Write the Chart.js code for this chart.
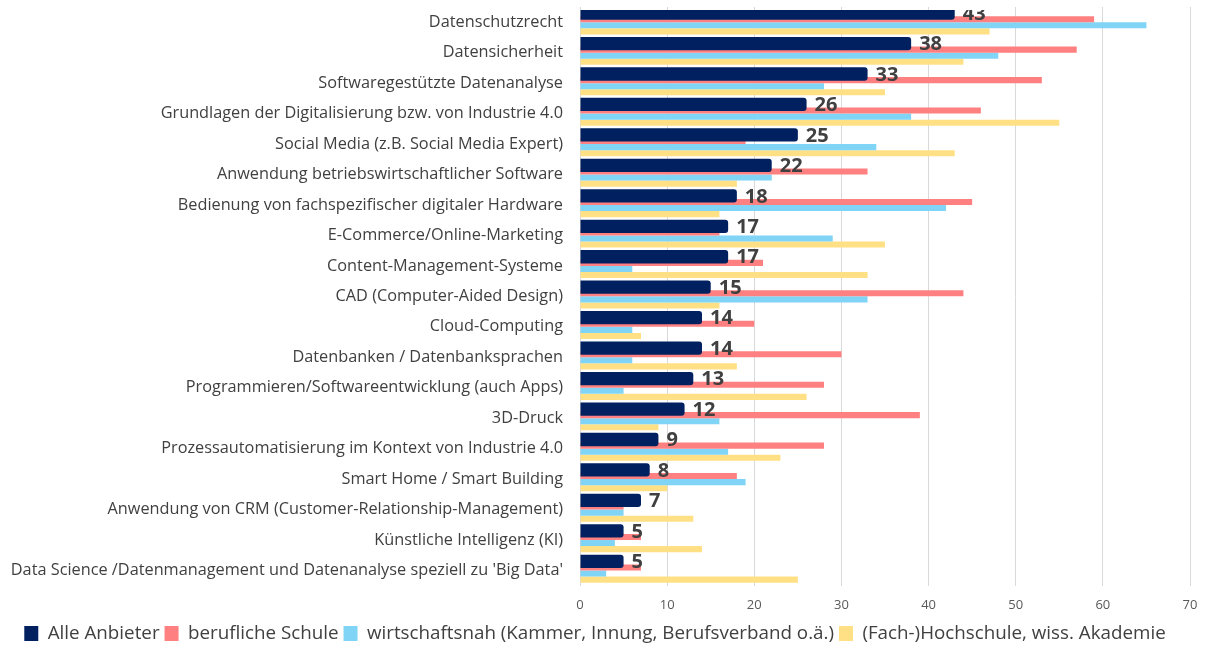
<!DOCTYPE html>
<html>
<head>
<meta charset="utf-8">
<script src="https://cdn.jsdelivr.net/npm/chart.js@4/dist/chart.umd.min.js"></script>
<style>
  html, body { margin: 0; padding: 0; background: #fff; }
  #wrap { width: 1205px; height: 645px; position: relative; }
</style>
</head>
<body>
<div id="wrap"><canvas id="chart"></canvas></div>
<script>
(function () {
    'use strict';

    var categories = [
        'Datenschutzrecht',
        'Datensicherheit',
        'Softwaregestützte Datenanalyse',
        'Grundlagen der Digitalisierung bzw. von Industrie 4.0',
        'Social Media (z.B. Social Media Expert)',
        'Anwendung betriebswirtschaftlicher Software',
        'Bedienung von fachspezifischer digitaler Hardware',
        'E-Commerce/Online-Marketing',
        'Content-Management-Systeme',
        'CAD (Computer-Aided Design)',
        'Cloud-Computing',
        'Datenbanken / Datenbanksprachen',
        'Programmieren/Softwareentwicklung (auch Apps)',
        '3D-Druck',
        'Prozessautomatisierung im Kontext von Industrie 4.0',
        'Smart Home / Smart Building',
        'Anwendung von CRM (Customer-Relationship-Management)',
        'Künstliche Intelligenz (KI)',
        "Data Science /Datenmanagement und Datenanalyse speziell zu 'Big Data'"
    ];
    var alleAnbieter = [43, 38, 33, 26, 25, 22, 18, 17, 17, 15, 14, 14, 13, 12, 9, 8, 7, 5, 5];
    var beruflicheSchule = [59, 57, 53, 46, 19, 33, 45, 16, 21, 44, 20, 30, 28, 39, 28, 18, 5, 7, 7];
    var wirtschaftsnah = [65, 48, 28, 38, 34, 22, 42, 29, 6, 33, 6, 6, 5, 16, 17, 19, 5, 4, 3];
    var hochschule = [47, 44, 35, 55, 43, 18, 16, 35, 33, 16, 7, 18, 26, 9, 23, 10, 13, 14, 25];
    var seriesNames = [
        'Alle Anbieter',
        'berufliche Schule',
        'wirtschaftsnah (Kammer, Innung, Berufsverband o.ä.)',
        '(Fach-)Hochschule, wiss. Akademie'
    ];
    var xTicks = [0, 10, 20, 30, 40, 50, 60, 70];

    var navy = '#002060';
    var red = '#FF8080';
    var blue = '#80D4F5';
    var yellow = '#FFE085';
    var textColor = '#404040';
    var font = "'Open Sans', sans-serif";

    // Zahlen rechts neben den dunkelblauen Balken
    var valueLabels = {
        id: 'valueLabels',
        afterDatasetsDraw: function (chart) {
            var meta = chart.getDatasetMeta(0);
            var area = chart.chartArea;
            var ctx = chart.ctx;
            ctx.save();
            ctx.beginPath();
            ctx.rect(area.left, area.top + 3, area.right - area.left, area.bottom - area.top);
            ctx.clip();
            ctx.font = "bold 20px 'Liberation Sans Narrow', 'Open Sans', sans-serif";
            ctx.fillStyle = textColor;
            ctx.textAlign = 'left';
            ctx.textBaseline = 'middle';
            meta.data.forEach(function (bar, i) {
                ctx.fillText(String(alleAnbieter[i]), bar.x + 8, bar.y + 1);
            });
            ctx.restore();
        }
    };

    var common = { categoryPercentage: 0.8, barPercentage: 1.0, borderWidth: 0, clip: { left: 0, top: -3, right: 0, bottom: 0 } };

    new Chart(document.getElementById('chart'), {
        type: 'bar',
        data: {
            labels: categories,
            datasets: [
                Object.assign({}, common, {
                    label: seriesNames[0],
                    data: alleAnbieter,
                    backgroundColor: navy,
                    barPercentage: 2.18,
                    borderRadius: { topRight: 3, bottomRight: 3, topLeft: 0, bottomLeft: 0 },
                    borderSkipped: false
                }),
                Object.assign({}, common, { label: seriesNames[1], data: beruflicheSchule, backgroundColor: red }),
                Object.assign({}, common, { label: seriesNames[2], data: wirtschaftsnah, backgroundColor: blue }),
                Object.assign({}, common, { label: seriesNames[3], data: hochschule, backgroundColor: yellow })
            ]
        },
        options: {
            indexAxis: 'y',
            responsive: true,
            maintainAspectRatio: false,
            animation: false,
            layout: { padding: { left: 0, right: 15, top: 7, bottom: -8 } },
            plugins: {
                legend: {
                    position: 'bottom',
                    labels: {
                        color: textColor,
                        font: { family: font, size: 18.8 },
                        boxWidth: 14,
                        boxHeight: 15,
                        padding: 5
                    }
                },
                tooltip: { enabled: false }
            },
            scales: {
                x: {
                    min: xTicks[0],
                    max: xTicks[xTicks.length - 1],
                    afterBuildTicks: function (scale) {
                        scale.ticks = xTicks.map(function (v) { return { value: v }; });
                    },
                    afterFit: function (scale) {
                        scale.height = 33.5;
                        scale.paddingLeft = 0;
                        scale.paddingRight = 0;
                    },
                    grid: { color: '#D9D9D9', drawTicks: false },
                    border: { display: false },
                    ticks: { color: '#595959', font: { family: font, size: 13 }, padding: 12 }
                },
                y: {
                    afterFit: function (scale) {
                        scale.width = 580;
                        scale.paddingTop = 0;
                        scale.paddingBottom = 0;
                    },
                    grid: { display: false, drawTicks: false },
                    border: { display: true, color: '#D9D9D9' },
                    ticks: { color: textColor, font: { family: font, size: 16.3 }, padding: 17, autoSkip: false }
                }
            }
        },
        plugins: [valueLabels]
    });
})();
</script>
</body>
</html>
